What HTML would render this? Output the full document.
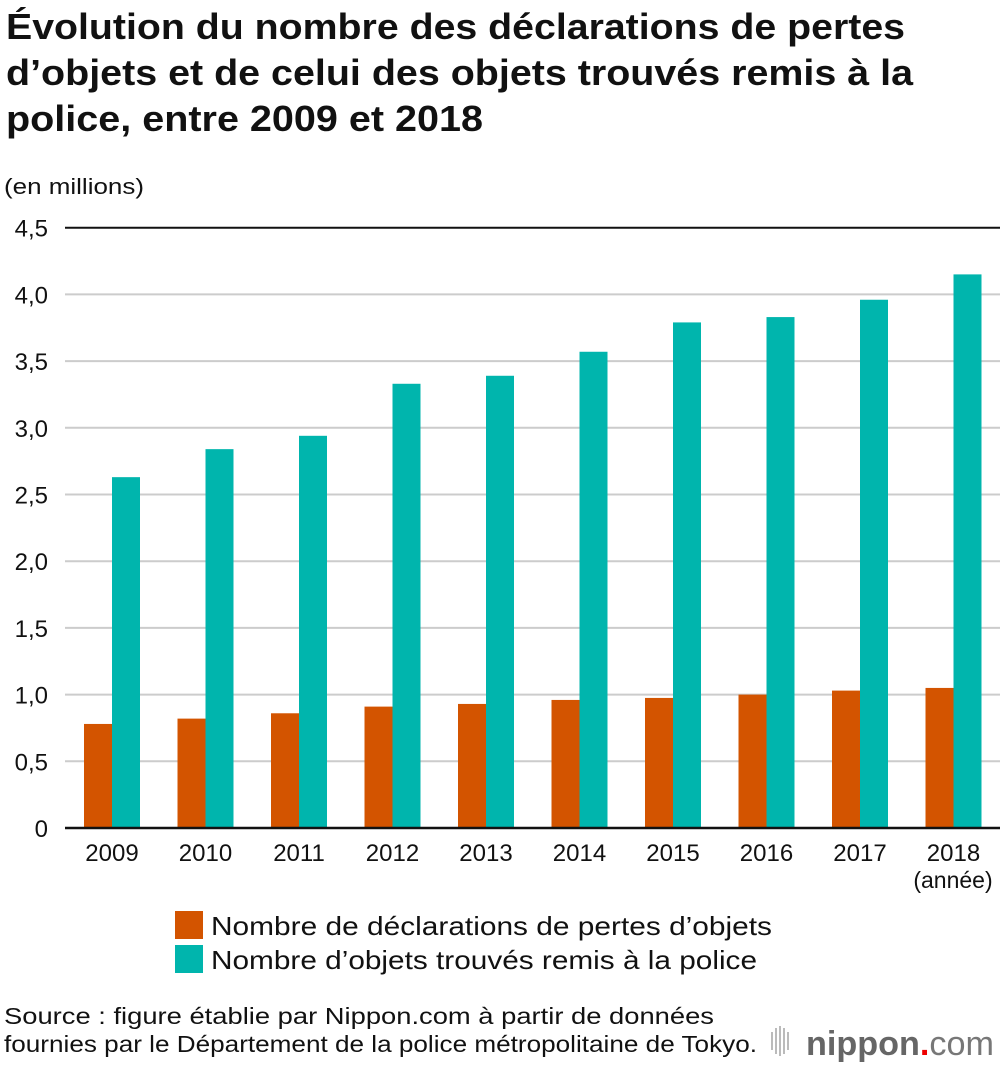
<!DOCTYPE html>
<html><head><meta charset="utf-8">
<style>
body{margin:0;background:#fff;font-family:"Liberation Sans",sans-serif;}
svg text{font-family:"Liberation Sans",sans-serif;}
</style></head>
<body>
<svg id="chart" width="1000" height="1062" viewBox="0 0 1000 1062" xmlns="http://www.w3.org/2000/svg">
<g font-size="36" font-weight="bold" fill="#111">
<text x="6" y="39" textLength="899" lengthAdjust="spacingAndGlyphs">Évolution du nombre des déclarations de pertes</text>
<text x="6" y="85" textLength="907" lengthAdjust="spacingAndGlyphs">d’objets et de celui des objets trouvés remis à la</text>
<text x="6" y="131" textLength="477" lengthAdjust="spacingAndGlyphs">police, entre 2009 et 2018</text>
</g>
<text x="4" y="194" font-size="22" fill="#111" textLength="140" lengthAdjust="spacingAndGlyphs">(en millions)</text>
<g id="grid"></g>
<g id="bars"></g>
<g id="axes"></g>
<text x="953" y="888" font-size="23" fill="#111" text-anchor="middle">(année)</text>
<g>
<rect x="175" y="911" width="28" height="28" fill="#d35400"/>
<text x="211" y="935" font-size="26" fill="#111" textLength="561" lengthAdjust="spacingAndGlyphs">Nombre de déclarations de pertes d’objets</text>
<rect x="175" y="945" width="28" height="28" fill="#00b5ad"/>
<text x="211" y="969" font-size="26" fill="#111" textLength="546" lengthAdjust="spacingAndGlyphs">Nombre d’objets trouvés remis à la police</text>
</g>
<g font-size="23" fill="#111">
<text x="4" y="1024" textLength="710" lengthAdjust="spacingAndGlyphs">Source : figure établie par Nippon.com à partir de données</text>
<text x="4" y="1052" textLength="753" lengthAdjust="spacingAndGlyphs">fournies par le Département de la police métropolitaine de Tokyo.</text>
</g>
<g>
<g fill="#bbb">
<rect x="771" y="1032" width="2" height="18"/><rect x="775" y="1028" width="2" height="26"/><rect x="779" y="1026" width="2" height="30"/><rect x="783" y="1028" width="2" height="26"/><rect x="787" y="1032" width="2" height="18"/>
</g>
<text x="806" y="1055" font-size="34" fill="#666" font-weight="bold" textLength="188" lengthAdjust="spacingAndGlyphs">nippon<tspan fill="#e00">.</tspan><tspan font-weight="normal" fill="#777">com</tspan></text>
</g>
</svg>
<script>
const categories=["2009","2010","2011","2012","2013","2014","2015","2016","2017","2018"];
const pertes=[0.78,0.82,0.86,0.91,0.93,0.96,0.975,1.0,1.03,1.05];
const trouves=[2.63,2.84,2.94,3.33,3.39,3.57,3.79,3.83,3.96,4.15];
const yTicks=[0,0.5,1,1.5,2,2.5,3,3.5,4,4.5];
const yTickLabels=["0","0,5","1,0","1,5","2,0","2,5","3,0","3,5","4,0","4,5"];
const NS="http://www.w3.org/2000/svg";
const x0=65,x1=1000,yBase=828,pxPerUnit=133.4,barW=28;
function y(v){return yBase-v*pxPerUnit;}
function xc(i){return 112+i*93.5;}
function mk(tag,attrs,parent){const e=document.createElementNS(NS,tag);for(const k in attrs)e.setAttribute(k,attrs[k]);parent.appendChild(e);return e;}
const grid=document.getElementById('grid'),bars=document.getElementById('bars'),axes=document.getElementById('axes');
yTicks.forEach((t,i)=>{
  if(t>0){const l=mk('line',{x1:x0,x2:x1,y1:y(t),y2:y(t),stroke:i===yTicks.length-1?'#111':'#ccc','stroke-width':2},grid);
  
  }
  const tx=mk('text',{x:48,y:y(t)+9,'font-size':24,'text-anchor':'end',fill:'#111'},axes);
  tx.textContent=yTickLabels[i];
  
  
});
categories.forEach((c,i)=>{
  const a=mk('rect',{x:xc(i)-barW,y:y(pertes[i]),width:barW,height:pertes[i]*pxPerUnit,fill:'#d35400'},bars);
  
  
  const b=mk('rect',{x:xc(i),y:y(trouves[i]),width:barW,height:trouves[i]*pxPerUnit,fill:'#00b5ad'},bars);
  
  
  const t=mk('text',{x:xc(i),y:861,'font-size':24,'text-anchor':'middle',fill:'#111'},axes);
  t.textContent=c;
  
  
});
const base=mk('line',{x1:x0,x2:x1,y1:yBase,y2:yBase,stroke:'#111','stroke-width':2.5},axes);


</script>
</body></html>
